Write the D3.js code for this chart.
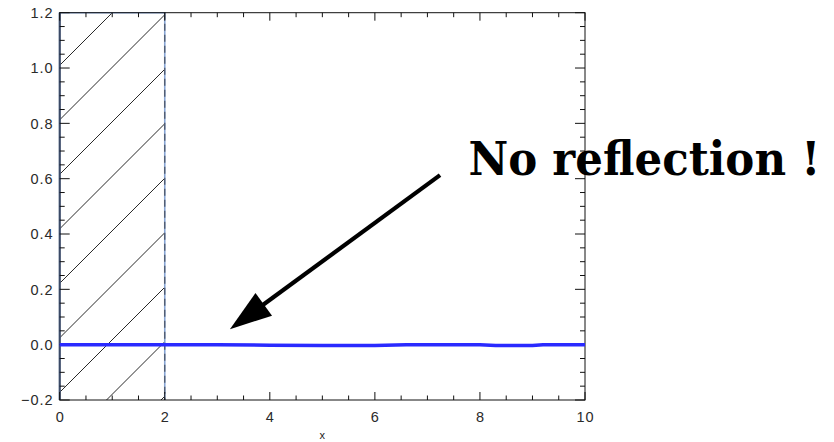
<!DOCTYPE html>
<html>
<head>
<meta charset="utf-8">
<script src="https://cdn.jsdelivr.net/npm/d3@7"></script>
<style>
  html, body { margin: 0; padding: 0; background: #fff; }
  svg { display: block; }
  .tick-label { font-family: "Liberation Sans", Arial, sans-serif; font-size: 14.5px; fill: #2a2a2a; letter-spacing: 1px; }
</style>
</head>
<body>
<svg id="chart" width="834" height="442"></svg>
<script>
// Reflected amplitude along x (essentially zero everywhere)
const xValues = [0, 1, 2, 3, 4, 5, 6, 6.6, 7, 8, 8.3, 9, 9.2, 10];
const yValues = [0, 0, 0, 0, -0.002, -0.003, -0.003, 0, 0, 0, -0.003, -0.003, 0, 0];

// Axis ticks
const xMajorTicks = [0, 2, 4, 6, 8, 10];
const yMajorTicks = [-0.2, 0.0, 0.2, 0.4, 0.6, 0.8, 1.0, 1.2];
const xMinorStep = 0.5;
const yMinorStep = 0.05;

// Shaded (absorbing) region
const regionX = [0, 2];

// Annotation: arrow tail/tip and label anchor (data units)
const arrowTail = [7.24, 0.613];
const arrowTip = [3.24, 0.056];
const labelAnchor = [7.78, 0.613];
const labelText = "No reflection !";

const svg = d3.select("#chart");
const margin = { left: 59.7, right: 834 - 585, top: 12.7, bottom: 442 - 400 };
const W = 834, H = 442;

const x = d3.scaleLinear().domain([0, 10]).range([margin.left, W - margin.right]);
const y = d3.scaleLinear().domain([-0.2, 1.2]).range([H - margin.bottom, margin.top]);

const x0 = x.range()[0], x1 = x.range()[1];
const y0 = y.range()[0], y1 = y.range()[1];

// Hatched region with 45-degree lines
svg.append("clipPath").attr("id", "regionClip")
  .append("rect")
  .attr("x", x(regionX[0])).attr("y", y1)
  .attr("width", x(regionX[1]) - x(regionX[0])).attr("height", y0 - y1);

const hatch = svg.append("g").attr("clip-path", "url(#regionClip)");
const hatchSpacing = 54.5;
const hatchStart = 125;
for (let c = hatchStart - 20 * hatchSpacing; c < 1200; c += hatchSpacing) {
  // line x + y = c in pixel space
  hatch.append("line")
    .attr("x1", c - y0).attr("y1", y0)
    .attr("x2", c - y1).attr("y2", y1)
    .attr("stroke", "#111").attr("stroke-width", 0.9);
}

// Region outline
svg.append("path")
  .attr("d", `M${x(regionX[0])},${y0}V${y1}H${x(regionX[1])}V${y0}`)
  .attr("fill", "none").attr("stroke", "#86a4d4").attr("stroke-width", 1.6);
svg.append("line")
  .attr("x1", x(regionX[1])).attr("x2", x(regionX[1]))
  .attr("y1", y1).attr("y2", y0)
  .attr("stroke", "#4a5262").attr("stroke-width", 1.2)
  .attr("stroke-dasharray", "7,4");

// Frame
svg.append("rect")
  .attr("x", x0).attr("y", y1).attr("width", x1 - x0).attr("height", y0 - y1)
  .attr("fill", "none").attr("stroke", "#111").attr("stroke-width", 1);
svg.append("line")
  .attr("x1", x0).attr("x2", x0).attr("y1", y1).attr("y2", y0)
  .attr("stroke", "#3b4a66").attr("stroke-width", 2);

// Ticks
const ticks = svg.append("g").attr("stroke", "#111").attr("stroke-width", 1);
const xMinor = d3.range(0, 10 + 1e-9, xMinorStep);
xMinor.forEach(v => {
  const major = xMajorTicks.some(t => Math.abs(t - v) < 1e-6);
  const len = major ? 8 : 4.5;
  const px = x(v);
  ticks.append("line").attr("x1", px).attr("x2", px).attr("y1", y0).attr("y2", y0 - len);
  ticks.append("line").attr("x1", px).attr("x2", px).attr("y1", y1).attr("y2", y1 + len);
});
const yMinor = d3.range(-0.2, 1.2 + 1e-9, yMinorStep);
yMinor.forEach(v => {
  const major = yMajorTicks.some(t => Math.abs(t - v) < 1e-6);
  const len = major ? 10 : 5;
  const py = y(v);
  ticks.append("line").attr("x1", x0).attr("x2", x0 + len).attr("y1", py).attr("y2", py);
  ticks.append("line").attr("x1", x1).attr("x2", x1 - len).attr("y1", py).attr("y2", py);
});

// Tick labels
svg.append("g").selectAll("text").data(xMajorTicks).join("text")
  .attr("class", "tick-label")
  .attr("x", d => x(d) + 0.5).attr("y", y0 + 22)
  .attr("text-anchor", "middle")
  .text(d => d3.format("d")(d));
svg.append("g").selectAll("text").data(yMajorTicks).join("text")
  .attr("class", "tick-label")
  .attr("x", x0 - 6).attr("y", d => y(d) + 5.3)
  .attr("text-anchor", "end")
  .text(d => d3.format(".1f")(d).replace("-", "\u2212"));

// Axis title
svg.append("text")
  .attr("x", (x0 + x1) / 2).attr("y", 439)
  .attr("text-anchor", "middle")
  .attr("font-family", "Liberation Sans, Arial, sans-serif")
  .attr("font-size", 11).attr("fill", "#222")
  .text("x");

// Data line
const line = d3.line().x(d => x(d[0])).y(d => y(d[1]));
svg.append("path")
  .datum(d3.zip(xValues, yValues))
  .attr("d", line)
  .attr("fill", "none").attr("stroke", "#2a2aff").attr("stroke-width", 3.5);

// Annotation arrow
const tail = [x(arrowTail[0]), y(arrowTail[1])];
const tip = [x(arrowTip[0]), y(arrowTip[1])];
const ang = Math.atan2(tip[1] - tail[1], tip[0] - tail[0]);
const headLen = 42, headHalf = 14;
const base = [tip[0] - headLen * Math.cos(ang), tip[1] - headLen * Math.sin(ang)];
svg.append("line")
  .attr("x1", tail[0]).attr("y1", tail[1])
  .attr("x2", base[0] + 5 * Math.cos(ang)).attr("y2", base[1] + 5 * Math.sin(ang))
  .attr("stroke", "#000").attr("stroke-width", 4.2);
svg.append("path")
  .attr("d", `M${tip[0]},${tip[1]}` +
    `L${base[0] + headHalf * Math.sin(ang)},${base[1] - headHalf * Math.cos(ang)}` +
    `L${base[0] - headHalf * Math.sin(ang)},${base[1] + headHalf * Math.cos(ang)}Z`)
  .attr("fill", "#000");

// Annotation text, squeezed horizontally to its target width
const labelWidth = 352;
const lx = x(labelAnchor[0]), ly = y(labelAnchor[1]);
const label = svg.append("text")
  .attr("x", 0).attr("y", 0)
  .attr("font-family", "DejaVu Serif, serif")
  .attr("font-weight", "bold")
  .attr("font-size", 47)
  .attr("fill", "#000")
  .text(labelText);
const natural = label.node().getComputedTextLength();
label.attr("transform", `translate(${lx},${ly}) scale(${labelWidth / natural},1)`);
</script>
</body>
</html>
